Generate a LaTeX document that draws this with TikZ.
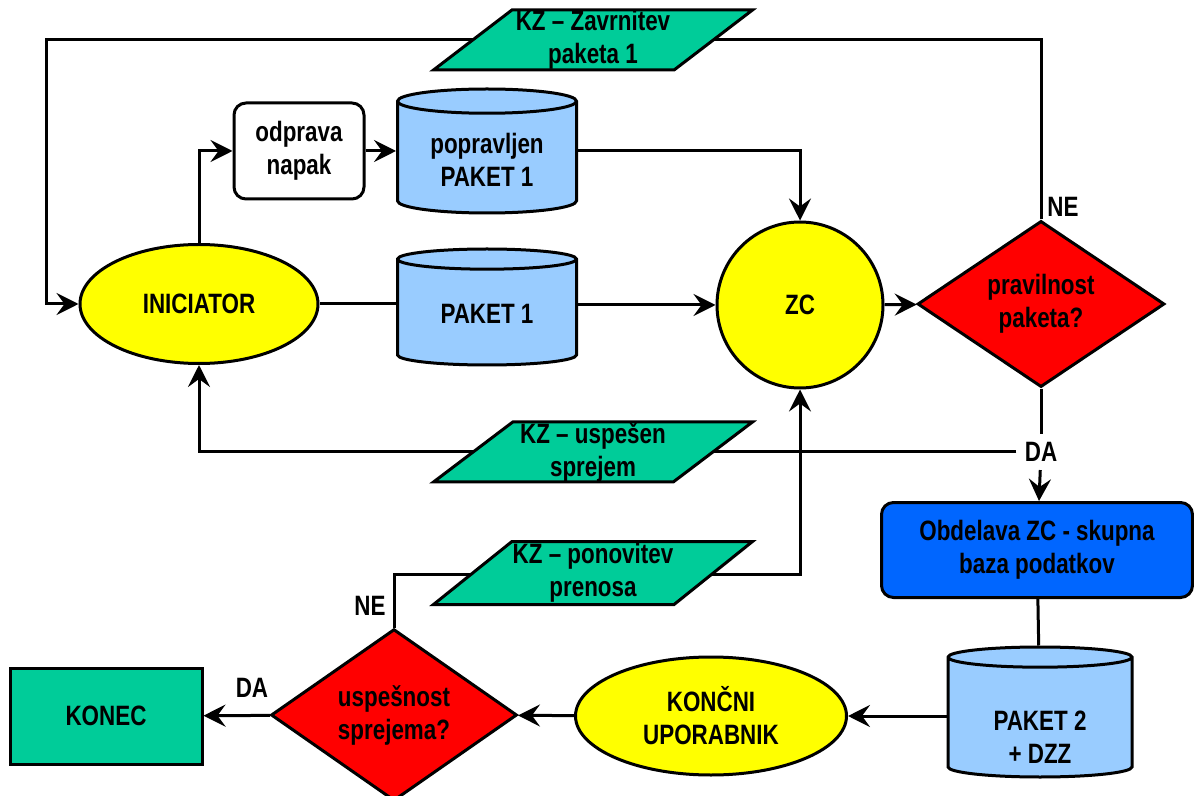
\documentclass[tikz,border=0pt]{standalone}
\usepackage{fontspec}
\setmainfont{Liberation Sans}[FakeStretch=0.8]
\usepackage{tikz}
\usetikzlibrary{shapes.geometric,arrows.meta,positioning,backgrounds}
\definecolor{zcyellow}{RGB}{255,255,0}
\definecolor{zcred}{RGB}{255,0,0}
\definecolor{pktblue}{RGB}{153,204,255}
\definecolor{kzgreen}{RGB}{0,204,153}
\definecolor{dbblue}{RGB}{0,102,255}
\tikzset{
	base/.style={
		draw, line width=1.5pt, align=center, inner sep=2pt,
		font=\bfseries\fontsize{14}{16.5}\selectfont
	},
	actor/.style={base, ellipse, fill=zcyellow},
	packet/.style={
		base, cylinder, shape border rotate=90, aspect=0.2,
		fill=pktblue, anchor=shape center
	},
	check/.style={base, diamond, fill=zcred, inner sep=0pt},
	message/.style={
		base, trapezium, trapezium left angle=37, trapezium right angle=143,
		trapezium stretches body, fill=kzgreen, inner xsep=-4pt, inner ysep=0pt,
		minimum width=159.5pt, minimum height=30pt
	},
	stepbox/.style={base, rectangle, rounded corners=6pt},
	answer/.style={font=\bfseries\fontsize{14}{16.5}\selectfont, inner sep=4pt},
	conn/.style={line width=1.5pt},
	arr/.style={conn, -{Stealth[length=11pt,width=11pt,inset=4pt]}}
}
\begin{document}
\begin{tikzpicture}[x=0.5pt,y=-0.5pt]
	\useasboundingbox (0,0) rectangle (1194,796);
	\node[actor, minimum width=119pt, minimum height=59.5pt] (ini) at (199,304) {INICIATOR};
	\node[stepbox, minimum width=65pt, minimum height=48pt] (odp) at (299,151) {odprava\\napak};
	\node[packet, minimum width=89.5pt, minimum height=62pt] (pop) at (487,151) {popravljen\\PAKET 1};
	\node[packet, minimum width=89.5pt, minimum height=58pt] (pak1) at (487,307) {PAKET 1};
	\node[actor, circle, minimum size=83pt] (zc) at (800,305) {ZC};
	\node[check, minimum width=123.5pt, minimum height=82pt] (prav) at (1041,304) {pravilnost\\paketa?};
	\node[message] (kz1) at (593,40) {KZ -- Zavrnitev\\paketa 1};
	\node[message] (kz2) at (593,452) {KZ -- uspešen\\sprejem};
	\node[message, minimum height=31.5pt] (kz3) at (593,573) {KZ -- ponovitev\\prenosa};
	\node[stepbox, fill=dbblue, minimum width=155.5pt, minimum height=47.5pt] (obd) at (1037,550) {Obdelava ZC - skupna\\baza podatkov};
	\node[packet, minimum width=92pt, minimum height=65pt,
		label={[answer, align=center, inner sep=0pt, yshift=-9pt]center:PAKET 2\\+ DZZ}] (pak2) at (1040,712) {\phantom{PAKET 2}\\\phantom{+ DZZ}};
	\node[actor, minimum width=135.5pt, minimum height=59pt] (kon) at (711,716) {KONČNI\\UPORABNIK};
	\node[check, minimum width=123pt, minimum height=81pt] (usp) at (394,715) {uspešnost\\sprejema?};
	\node[base, rectangle, fill=kzgreen, minimum width=96pt, minimum height=48pt] (konec) at (106,716) {KONEC};
	\node[answer] (ne1) at (1063,207) {NE};
	\node[answer] (da1) at (1041,452) {DA};
	\node[answer] (ne2) at (370,606) {NE};
	\node[answer] (da2) at (252,688) {DA};
	\coordinate (c1) at (1041,40);
	\coordinate (c2) at (46,40);
	\coordinate (c3) at (800,574);
	\begin{pgfonlayer}{background}
		\draw[arr] (ini.north) |- (odp.west);
		\draw[arr] (odp) -- (pop.west |- odp);
		\draw[arr] (pop.east |- odp) -| (zc.north);
		\draw[conn] (ini) -- (pak1.west |- ini);
		\draw[arr] (pak1.east |- zc) -- (zc);
		\draw[arr] (zc) -- (prav);
		\draw[arr] (prav.north) -- (c1) -- (c2) |- (ini.west);
		\draw[conn] (prav.south) -- (da1);
		\draw[arr] (da1) -- (obd);
		\draw[arr] (da1) -| (ini.south);
		\draw[conn] (obd) -- (pak2);
		\draw[arr] (kon.east -| pak2.west) -- (kon.east);
		\draw[arr] (kon) -- (usp);
		\draw[arr] (usp) -- (konec);
		\draw[arr] (usp.north) |- (c3) -- (zc.south);
	\end{pgfonlayer}
\end{tikzpicture}
\end{document}
